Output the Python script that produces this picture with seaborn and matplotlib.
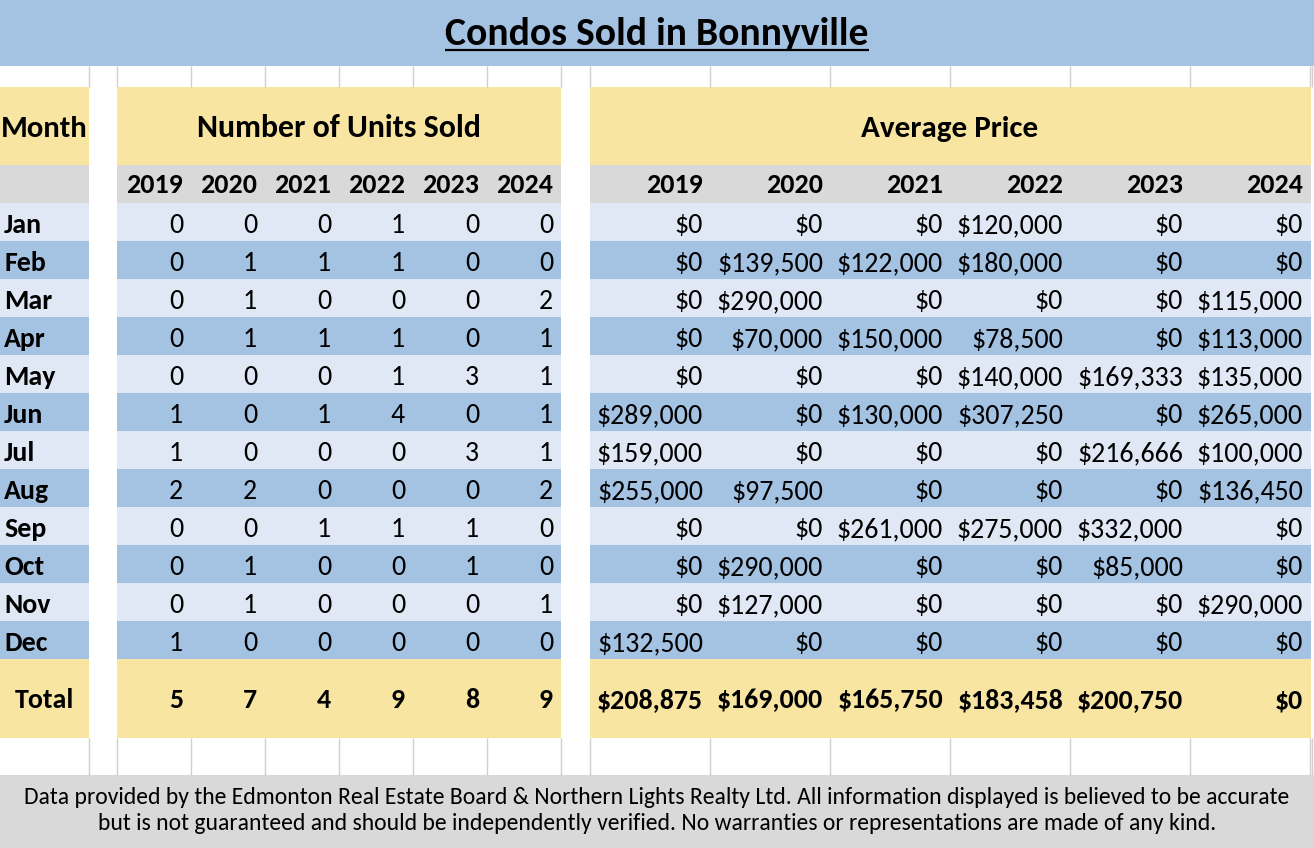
import matplotlib
matplotlib.use("Agg")
import matplotlib.pyplot as plt
import pandas as pd
import seaborn as sns
from matplotlib import font_manager

months = ["Jan", "Feb", "Mar", "Apr", "May", "Jun", "Jul", "Aug", "Sep", "Oct", "Nov", "Dec"]
years = ["2019", "2020", "2021", "2022", "2023", "2024"]

units_2019 = [0, 0, 0, 0, 0, 1, 1, 2, 0, 0, 0, 1]
units_2020 = [0, 1, 1, 1, 0, 0, 0, 2, 0, 1, 1, 0]
units_2021 = [0, 1, 0, 1, 0, 1, 0, 0, 1, 0, 0, 0]
units_2022 = [1, 1, 0, 1, 1, 4, 0, 0, 1, 0, 0, 0]
units_2023 = [0, 0, 0, 0, 3, 0, 3, 0, 1, 1, 0, 0]
units_2024 = [0, 0, 2, 1, 1, 1, 1, 2, 0, 0, 1, 0]
units_total = [5, 7, 4, 9, 8, 9]

price_2019 = [0, 0, 0, 0, 0, 289000, 159000, 255000, 0, 0, 0, 132500]
price_2020 = [0, 139500, 290000, 70000, 0, 0, 0, 97500, 0, 290000, 127000, 0]
price_2021 = [0, 122000, 0, 150000, 0, 130000, 0, 0, 261000, 0, 0, 0]
price_2022 = [120000, 180000, 0, 78500, 140000, 307250, 0, 0, 275000, 0, 0, 0]
price_2023 = [0, 0, 0, 0, 169333, 0, 216666, 0, 332000, 85000, 0, 0]
price_2024 = [0, 0, 115000, 113000, 135000, 265000, 100000, 136450, 0, 0, 290000, 0]
price_total = [208875, 169000, 165750, 183458, 200750, 0]

title = "Condos Sold in Bonnyville"
footer_lines = [
    "Data provided by the Edmonton Real Estate Board & Northern Lights Realty Ltd. All information displayed is believed to be accurate",
    "but is not guaranteed and should be independently verified. No warranties or representations are made of any kind.",
]

units = pd.DataFrame(dict(zip(years, [units_2019, units_2020, units_2021,
                                      units_2022, units_2023, units_2024])), index=months)
prices = pd.DataFrame(dict(zip(years, [price_2019, price_2020, price_2021,
                                       price_2022, price_2023, price_2024])), index=months)

sns.set_theme(style="white")
names = {f.name for f in font_manager.fontManager.ttflist}
FONT = "Carlito" if "Carlito" in names else "Lato"
plt.rcParams["font.family"] = [FONT, "DejaVu Sans"]
plt.rcParams["text.color"] = "black"

BLUE = "#A4C2E2"
LIGHT = "#E0E8F5"
YELLOW = "#F9E5A2"
GREY = "#D9D9D9"
GRID = "#D0D0D0"

# layout in pixels
W, H = 1314, 848
month_col = (0, 89)
unit_edges = [117 + 74 * i for i in range(7)]
price_edges = [590 + 120 * i for i in range(7)]
row_h = 38
rows_top = 203

fig = plt.figure(figsize=(W / 100, H / 100), dpi=100)
ax = fig.add_axes([0, 0, 1, 1])
ax.set_xlim(0, W)
ax.set_ylim(H, 0)
ax.axis("off")

blocks = [(month_col[0], month_col[1] - month_col[0]),
          (unit_edges[0], unit_edges[-1] - unit_edges[0]),
          (price_edges[0], price_edges[-1] + 1 - price_edges[0])]


def band(spans, y, h, color):
    ax.broken_barh(spans, (y, h), facecolors=color, edgecolor="none", linewidth=0)


# background bands
band([(0, W)], 0, 66, BLUE)
band(blocks, 87, 78, YELLOW)
band(blocks, 165, 38, GREY)
for i, m in enumerate(months):
    band(blocks, rows_top + i * row_h, row_h, LIGHT if i % 2 == 0 else BLUE)
total_top = rows_top + len(months) * row_h
band(blocks, total_top, 738 - total_top, YELLOW)
band([(0, W)], 775, H - 775, GREY)

# faint spreadsheet gridlines in the empty rows
grid_x = [month_col[1]] + unit_edges + price_edges + [1312]
for y0, y1 in [(66, 87), (738, 775)]:
    ax.vlines(grid_x, y0, y1, colors=GRID, linewidth=1)

renderer = fig.canvas.get_renderer()


def fit(t, width):
    bb = t.get_window_extent(renderer)
    t.set_fontsize(t.get_fontsize() * width / bb.width)
    return t


# body font size from a reference value width
probe = ax.text(0, 0, "$139,500", fontsize=20)
fit(probe, 106)
FS = probe.get_fontsize()
probe.remove()

# title with underline
t = ax.text(W / 2, 45, title, ha="center", va="baseline", fontsize=26, fontweight="bold")
fit(t, 425)
bb = t.get_window_extent(renderer).transformed(ax.transData.inverted())
ax.plot([bb.x0, bb.x1], [50, 50], color="black", linewidth=1.6, solid_capstyle="butt")

# header row
fit(ax.text(44, 137, "Month", ha="center", va="baseline", fontsize=FS, fontweight="bold"), 87)
fit(ax.text((unit_edges[0] + unit_edges[-1]) / 2, 137, "Number of Units Sold",
            ha="center", va="baseline", fontsize=FS, fontweight="bold"), 284)
fit(ax.text((price_edges[0] + price_edges[-1]) / 2, 137, "Average Price",
            ha="center", va="baseline", fontsize=FS, fontweight="bold"), 178)

# year row
for j, yr in enumerate(years):
    ax.text(unit_edges[j + 1] - 8, 193, yr, ha="right", va="baseline", fontsize=FS, fontweight="bold")
    ax.text(price_edges[j + 1] - 7, 193, yr, ha="right", va="baseline", fontsize=FS, fontweight="bold")

# monthly rows
for i, m in enumerate(months):
    yb = rows_top + (i + 1) * row_h - 8
    ax.text(4, yb, m, ha="left", va="baseline", fontsize=FS, fontweight="bold")
    for j, yr in enumerate(years):
        ax.text(unit_edges[j + 1] - 8, yb, f"{units.loc[m, yr]}",
                ha="right", va="baseline", fontsize=FS)
        ax.text(price_edges[j + 1] - 7, yb, f"${prices.loc[m, yr]:,}",
                ha="right", va="baseline", fontsize=FS)

# totals
ax.text(44, 708, "Total", ha="center", va="baseline", fontsize=FS, fontweight="bold")
for j in range(len(years)):
    ax.text(unit_edges[j + 1] - 8, 708, f"{units_total[j]}",
            ha="right", va="baseline", fontsize=FS, fontweight="bold")
    ax.text(price_edges[j + 1] - 7, 708, f"${price_total[j]:,}",
            ha="right", va="baseline", fontsize=FS, fontweight="bold")

# footer note
f1 = ax.text(W / 2, 804, footer_lines[0], ha="center", va="baseline", fontsize=14)
fit(f1, 1272)
ax.text(W / 2, 830, footer_lines[1], ha="center", va="baseline", fontsize=f1.get_fontsize())

fig.savefig("out.png", dpi=100)
